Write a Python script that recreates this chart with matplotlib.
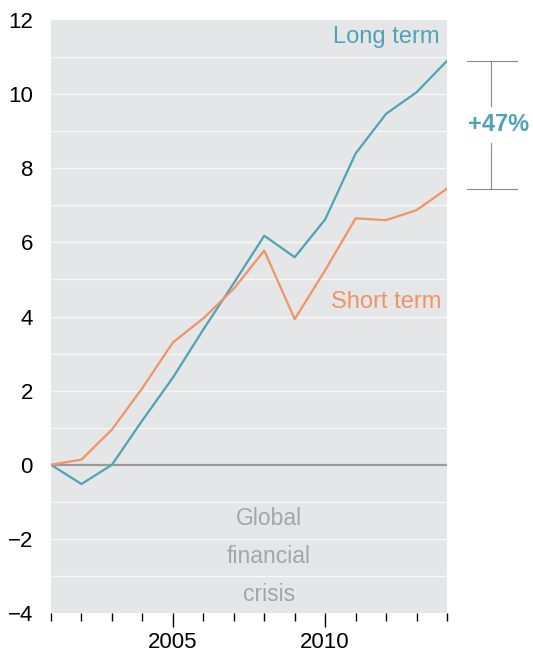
import matplotlib.pyplot as plt
import numpy as np

plt.rcParams['font.family'] = ['Liberation Sans', 'DejaVu Sans']

years = list(range(2001, 2015))
long_term = [0, -0.52, 0, 1.2, 2.35, 3.65, 4.9, 6.18, 5.6, 6.62, 8.4, 9.47, 10.05, 10.9]
short_term = [0, 0.14, 0.95, 2.07, 3.3, 3.95, 4.75, 5.78, 3.93, 5.25, 6.65, 6.6, 6.87, 7.45]
gap_label = '+47%'
crisis_words = ['Global', 'financial', 'crisis']

teal = '#4fa3b6'
orange = '#ef9466'

fig = plt.figure(figsize=(5.33, 6.56), dpi=100)
ax = fig.add_axes([0.0957, 0.0655, 0.743, 0.904])
ax.set_facecolor('#e5e6e7')

ax.set_xlim(2001, 2014)
ax.set_ylim(-4, 12)

# white gridlines every unit
for v in range(-3, 12):
    ax.axhline(v, color='#f7f7f7', lw=1.0, zorder=1)
ax.axhline(0, color='#9a9a9a', lw=1.6, zorder=2)

ax.plot(years, long_term, color=teal, lw=1.6, zorder=3)
ax.plot(years, short_term, color=orange, lw=1.6, zorder=3)

for s in ax.spines.values():
    s.set_visible(False)

ax.set_yticks(range(-4, 13, 2))
ax.set_yticklabels(['\u22124', '\u22122', '0', '2', '4', '6', '8', '10', '12'])
ax.tick_params(axis='y', length=0, pad=13, labelsize=16)

ax.set_xticks([2005, 2010])
ax.set_xticks(years, minor=True)
ax.tick_params(axis='x', which='major', length=10, width=1, color='black', labelsize=16, pad=4)
ax.tick_params(axis='x', which='minor', length=6, width=1, color='black')

ax.text(2013.75, 11.55, 'Long term', color=teal, fontsize=17, ha='right', va='center')
ax.text(2013.8, 4.4, 'Short term', color=orange, fontsize=17, ha='right', va='center')

for i, word in enumerate(crisis_words):
    ax.text(2008.15, -1.45 - i * 1.02, word, color='#a5a5a7', fontsize=16.5, ha='center', va='center')

# bracket showing the gap at the end
top = long_term[-1]
bot = short_term[-1]
mid = (top + bot) / 2
ax.plot([2014.65, 2016.3], [top, top], color='#888888', lw=0.8, clip_on=False)
ax.plot([2014.65, 2016.3], [bot, bot], color='#888888', lw=0.8, clip_on=False)
ax.plot([2015.45, 2015.45], [top, mid + 0.5], color='#888888', lw=0.8, clip_on=False)
ax.plot([2015.45, 2015.45], [mid - 0.5, bot], color='#888888', lw=0.8, clip_on=False)
ax.text(2015.7, mid, gap_label, color=teal, fontsize=17, fontweight='bold',
        ha='center', va='center', clip_on=False)

fig.savefig('out.png', dpi=100, facecolor='white')
